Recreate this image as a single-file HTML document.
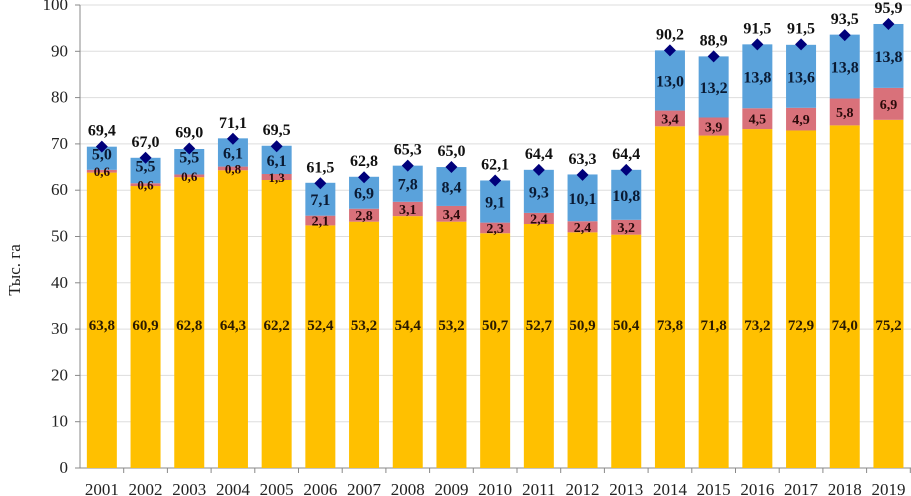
<!DOCTYPE html>
<html><head><meta charset="utf-8"><style>
html,body{margin:0;padding:0;background:#fff}
svg{display:block;font-family:"Liberation Serif",serif}
</style></head><body>
<svg id="chart" width="911" height="496">
<g id="grid"></g>
<g id="bars"></g>
<g id="labels"></g>
<text x="20" y="270" transform="rotate(-90 20 270)" text-anchor="middle" font-size="17" fill="#222">Тыс. га</text>
</svg>
<script>
const years=["2001","2002","2003","2004","2005","2006","2007","2008","2009","2010","2011","2012","2013","2014","2015","2016","2017","2018","2019"];
const yellowVals=[63.8,60.9,62.8,64.3,62.2,52.4,53.2,54.4,53.2,50.7,52.7,50.9,50.4,73.8,71.8,73.2,72.9,74.0,75.2];
const redVals=[0.6,0.6,0.6,0.8,1.3,2.1,2.8,3.1,3.4,2.3,2.4,2.4,3.2,3.4,3.9,4.5,4.9,5.8,6.9];
const blueVals=[5.0,5.5,5.5,6.1,6.1,7.1,6.9,7.8,8.4,9.1,9.3,10.1,10.8,13.0,13.2,13.8,13.6,13.8,13.8];
const totals=[69.4,67.0,69.0,71.1,69.5,61.5,62.8,65.3,65.0,62.1,64.4,63.3,64.4,90.2,88.9,91.5,91.5,93.5,95.9];
const yTicks=[0,10,20,30,40,50,60,70,80,90,100];
const NS="http://www.w3.org/2000/svg";
const x0=80,cw=43.7,bw=30,yBase=468,yTop=5;
function y(v){return yBase-(v/100)*(yBase-yTop);}
function xc(i){return x0+cw*(i+0.5);}
function fmt(v){return v.toFixed(1).replace('.',',');}
function mk(t,a,p){const e=document.createElementNS(NS,t);for(const k in a)e.setAttribute(k,a[k]);p.appendChild(e);return e;}
const grid=document.getElementById('grid'),bars=document.getElementById('bars'),labels=document.getElementById('labels');
yTicks.forEach(t=>{
  const l=mk('line',{x1:x0,x2:911,y1:y(t),y2:y(t),stroke:t===0?'#888':'#ddd','stroke-width':1},grid);
  
  
  const tk=mk('line',{x1:x0-5,x2:x0,y1:y(t),y2:y(t),stroke:'#888'},grid);
  
  
  const tx=mk('text',{x:x0-12,y:y(t)+5,'text-anchor':'end','font-size':17,fill:'#222'},grid);
  tx.textContent=t;
  
  
});
mk('line',{x1:x0,x2:x0,y1:yTop,y2:yBase,stroke:'#888'},grid);
years.forEach((yr,i)=>{
  const c=xc(i),xl=c-bw/2;
  const segs=[[0,yellowVals[i],'#FFC000'],[yellowVals[i],yellowVals[i]+redVals[i],'#D9717A'],[yellowVals[i]+redVals[i],yellowVals[i]+redVals[i]+blueVals[i],'#5AA2DB']];
  const names=['bar-yellow','bar-red','bar-blue'];
  segs.forEach((s,k)=>{
    const r=mk('rect',{x:xl,y:y(s[1]),width:bw,height:y(s[0])-y(s[1]),fill:s[2]},bars);
    
    
  });
  const tk=mk('line',{x1:x0+cw*(i+1),x2:x0+cw*(i+1),y1:yBase,y2:yBase+5,stroke:'#888'},grid);
  
  
  const xt=mk('text',{x:c,y:495,'text-anchor':'middle','font-size':17,fill:'#222'},labels);
  xt.textContent=yr;
  
  
  const yl=mk('text',{x:c,y:y(30)+1,'text-anchor':'middle','font-size':15,'font-weight':'bold',fill:'#2a1a00'},labels);
  yl.textContent=fmt(yellowVals[i]);
  
  
  const rm=yellowVals[i]+redVals[i]/2;
  const rl=mk('text',{x:c,y:y(rm)+5,'text-anchor':'middle','font-size':redVals[i]<1.5?13:14,'font-weight':'bold',fill:'#2a0a0a'},labels);
  rl.textContent=fmt(redVals[i]);
  
  
  const bm=yellowVals[i]+redVals[i]+blueVals[i]/2;
  const bl=mk('text',{x:c,y:y(bm)+(blueVals[i]<6?1:6),'text-anchor':'middle','font-size':16,'font-weight':'bold',fill:'#0a1a33'},labels);
  bl.textContent=fmt(blueVals[i]);
  
  
  const ty=y(totals[i]);
  const d=mk('polygon',{points:`${c},${ty-6} ${c+6},${ty} ${c},${ty+6} ${c-6},${ty}`,fill:'#00007A'},labels);
  
  
  const tl=mk('text',{x:c,y:ty-11,'text-anchor':'middle','font-size':16,'font-weight':'bold',fill:'#111'},labels);
  tl.textContent=fmt(totals[i]);
  
  
});
</script>
</body></html>
